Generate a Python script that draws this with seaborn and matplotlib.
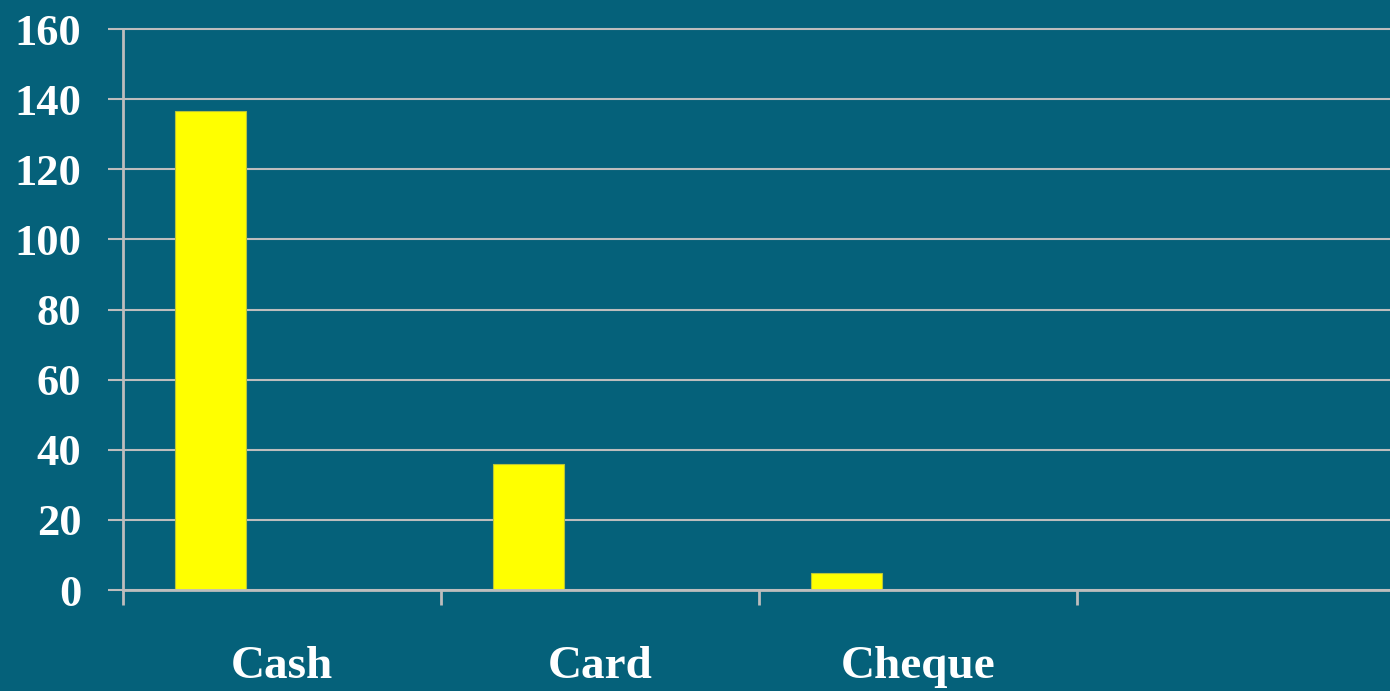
import pandas as pd
import matplotlib
matplotlib.use('Agg')
import matplotlib.pyplot as plt
import seaborn as sns

# data
categories = ['Cash', 'Card', 'Cheque']
values = [136.5, 36, 5]
series_names = ['Series1', 'Series2', 'Series3']
slot_order = ['Cash', 'Card', 'Cheque', '']

bg = '#05617A'
grid_col = '#BDBDBD'

df = pd.DataFrame({'Method': categories, 'Count': values, 'Series': 'Series1'})

sns.set_style('white')
plt.rcParams['font.family'] = ['Liberation Serif', 'DejaVu Serif']

fig = plt.figure(figsize=(13.9, 6.91), dpi=100)
fig.patch.set_facecolor(bg)
ax = fig.add_axes([0.0885, 0.146, 0.915, 0.812])
ax.set_facecolor(bg)

sns.barplot(data=df, x='Method', y='Count', hue='Series', order=slot_order,
            hue_order=series_names, palette=['#FFFF00'] * 3, width=0.67,
            dodge=True, saturation=1, edgecolor='#B8C43A', linewidth=0.8,
            legend=False, ax=ax)

ax.set_ylim(0, 160)
ax.set_yticks(range(0, 161, 20))
ax.set_xlim(-0.5, 3.5)
ax.set_xlabel('')
ax.set_ylabel('')

ax.yaxis.grid(True, color=grid_col, linewidth=1.5)
for gl in ax.get_ygridlines():
    gl.set_clip_on(False)
ax.set_axisbelow(True)

for s in ['top', 'right']:
    ax.spines[s].set_visible(False)
for s in ['left', 'bottom']:
    ax.spines[s].set_color(grid_col)
    ax.spines[s].set_linewidth(2)

ax.set_xticks([0, 1, 2, 3])
ax.set_xticklabels(slot_order)
ax.set_xticks([-0.5, 0.5, 1.5, 2.5, 3.5], minor=True)
ax.tick_params(axis='x', which='major', bottom=True, length=0, pad=40,
               labelsize=34, labelcolor='white')
ax.tick_params(axis='x', which='minor', bottom=True, length=11, width=2,
               color=grid_col, direction='out')
ax.tick_params(axis='y', which='major', left=True, length=11, width=1.5,
               color=grid_col, pad=19, labelsize=32, labelcolor='white',
               direction='out')
for lbl in ax.get_xticklabels() + ax.get_yticklabels():
    lbl.set_fontweight('bold')

fig.savefig('out.png', dpi=100, facecolor=bg)
